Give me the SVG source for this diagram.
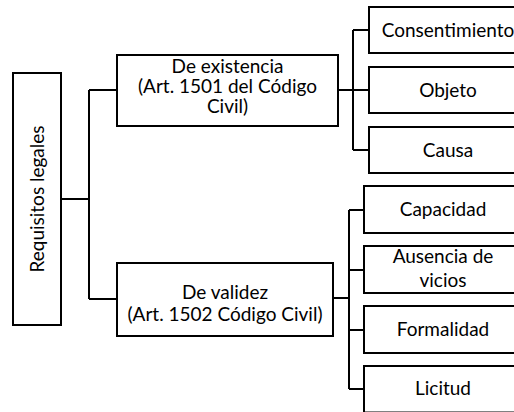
<svg xmlns="http://www.w3.org/2000/svg" width="514" height="412" viewBox="0 0 514 412">
<style>
.box{fill:#fff;stroke:#000;stroke-width:2}
.con{fill:none;stroke:#000;stroke-width:2}
text{font-family:Lato,"Liberation Sans",sans-serif;font-size:19px;fill:#000;text-anchor:middle}
</style>
<rect width="514" height="412" fill="#fff"/>
<g id="connectors">
<path class="con" d="M61,199H89M89,90V299M89,90H117M89,299H117"/>
<path class="con" d="M338,90H353M353,30V150M353,30H369M353,90H369M353,150H369"/>
<path class="con" d="M333,298H349M349,210V389M349,210H364M349,270H364M349,330H364M349,389H364"/>
</g>
<g id="root">
<rect class="box" x="13" y="73" width="48" height="252"/>
<text transform="translate(43.5,199) rotate(-90)">Requisitos legales</text>
</g>
<g id="existencia">
<rect class="box" x="117" y="55" width="221" height="71"/>
<text x="227.5" y="73">De existencia</text>
<text x="227.5" y="93">(Art. 1501 del Código</text>
<text x="227.5" y="113">Civil)</text>
</g>
<g id="consentimiento">
<rect class="box" x="369" y="7" width="160" height="46"/>
<text x="448" y="37">Consentimiento</text>
</g>
<g id="objeto">
<rect class="box" x="369" y="67" width="160" height="46"/>
<text x="448" y="97">Objeto</text>
</g>
<g id="causa">
<rect class="box" x="369" y="127" width="160" height="46"/>
<text x="448" y="157">Causa</text>
</g>
<g id="validez">
<rect class="box" x="117" y="263" width="216" height="73"/>
<text x="225" y="299">De validez</text>
<text x="225" y="321">(Art. 1502 Código Civil)</text>
</g>
<g id="capacidad">
<rect class="box" x="364" y="186" width="160" height="47"/>
<text x="443" y="216">Capacidad</text>
</g>
<g id="ausencia">
<rect class="box" x="364" y="246" width="160" height="47"/>
<text x="443" y="263">Ausencia de</text>
<text x="443" y="287">vicios</text>
</g>
<g id="formalidad">
<rect class="box" x="364" y="306" width="160" height="47"/>
<text x="443" y="336">Formalidad</text>
</g>
<g id="licitud">
<rect class="box" x="364" y="366" width="160" height="46.5"/>
<text x="443" y="395">Licitud</text>
</g>
</svg>
